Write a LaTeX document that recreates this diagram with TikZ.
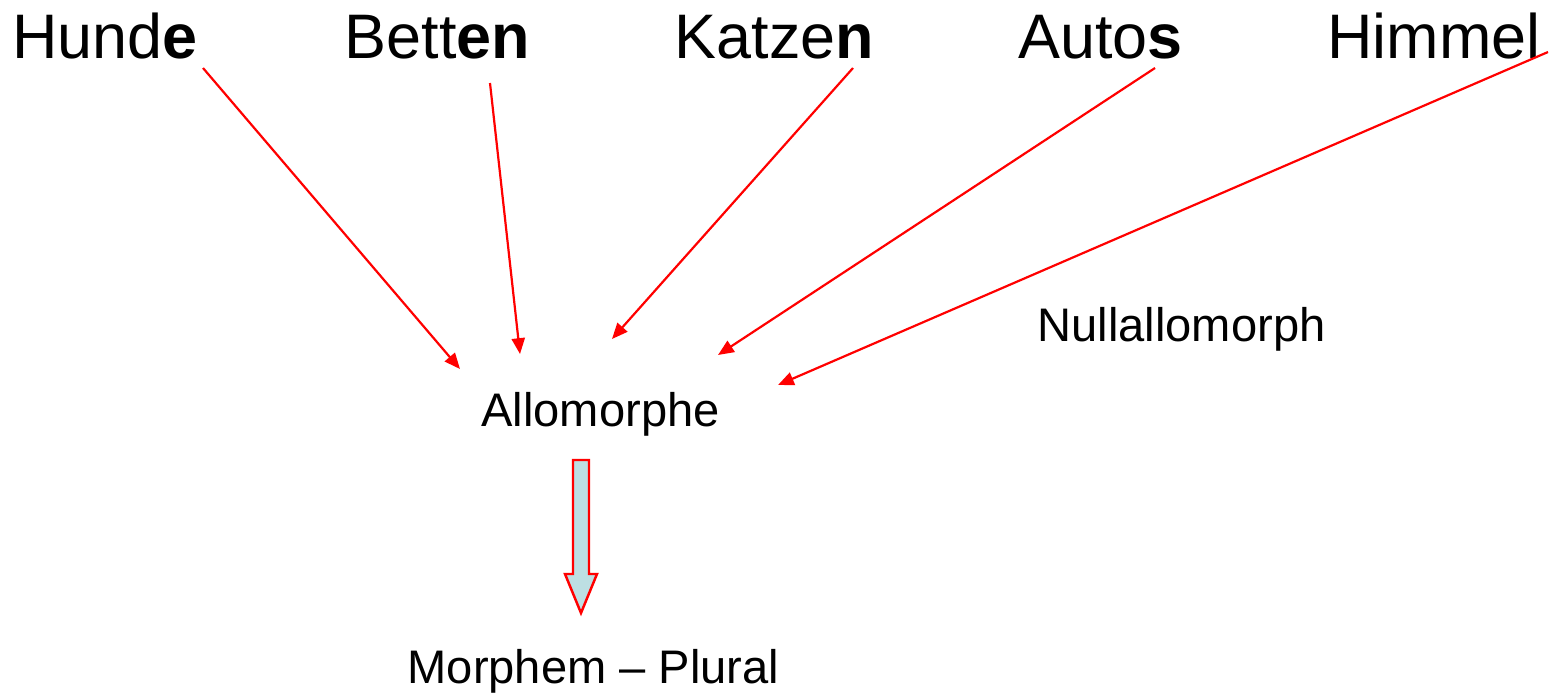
\documentclass[tikz,border=0pt]{standalone}
\usepackage{fontspec}
\setmainfont{Liberation Sans}
\usetikzlibrary{arrows.meta}
\definecolor{arrowfill}{HTML}{BDDFE3}
\begin{document}
\begin{tikzpicture}[x=0.02cm,y=-0.02cm,
  bigword/.style={anchor=base,inner sep=0pt,font=\fontsize{35.8}{40}\selectfont},
  smallword/.style={anchor=base,inner sep=0pt,font=\fontsize{26.8}{32}\selectfont},
  link/.style={red,line width=1.25pt,-{Triangle[length=9pt,width=7.5pt]}}]

  \useasboundingbox (0,0) rectangle (1561,694);

  % plural forms
  \node[bigword] (hunde) at (105,58) {Hund\textbf{e}};
  \node[bigword] (betten) at (437.5,58) {Bett\textbf{en}};
  \node[bigword] (katzen) at (774.5,58) {Katze\textbf{n}};
  \node[bigword] (autos) at (1100.5,58) {Auto\textbf{s}};
  \node[bigword] (himmel) at (1434,58) {Himmel};

  \node[smallword] (allo) at (600.5,426) {Allomorphe};
  \node[smallword] (null) at (1181.5,341) {Nullallomorph};
  \node[smallword] (morph) at (593.5,683) {Morphem -- Plural};

  % arrow ends
  \coordinate (hundeS) at (203,68);
  \coordinate (bettenS) at (490,83);
  \coordinate (katzenS) at (853,68);
  \coordinate (autosS) at (1155,68);
  \coordinate (himmelS) at (1548,52);
  \coordinate (hundeE) at (460,369);
  \coordinate (bettenE) at (520,354);
  \coordinate (katzenE) at (612,339);
  \coordinate (autosE) at (718,355);
  \coordinate (himmelE) at (778,385);

  % draw arrows
  \draw[link] (hundeS) -- (hundeE);
  \draw[link] (bettenS) -- (bettenE);
  \draw[link] (katzenS) -- (katzenE);
  \draw[link] (autosS) -- (autosE);
  \draw[link] (himmelS) -- (himmelE);

  % block arrow
  \draw[red,line width=1.4pt,fill=arrowfill,line join=miter] (573,460) -- (589,460) -- (589,574) -- (597,574)
    -- (581,613) -- (565,574) -- (573,574) -- cycle;
\end{tikzpicture}
\end{document}
